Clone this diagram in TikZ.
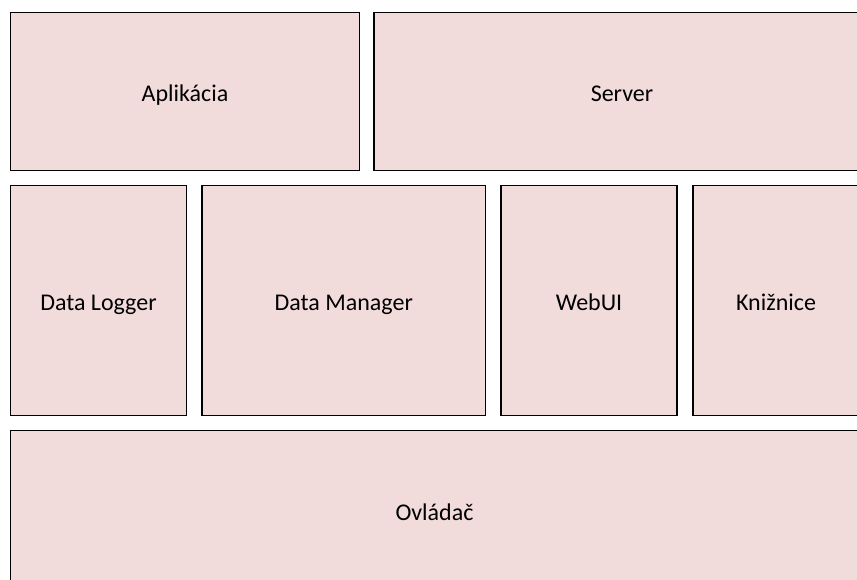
\documentclass[tikz,border=0pt]{standalone}
\usepackage{fontspec}
\setmainfont{Carlito}
\definecolor{blockfill}{HTML}{F2DCDB}
\begin{document}
\begin{tikzpicture}[x=1pt,y=-1pt,
  blockbox/.style={draw=black, fill=blockfill, line width=1.2pt, rectangle,
    inner sep=0pt, anchor=center, text height=21pt, text depth=1.5pt,
    font=\fontsize{24}{28}\selectfont}]
\useasboundingbox (0,0) rectangle (857,580);
\clip (0,0) rectangle (857,580);
% top row
\node[blockbox, minimum width=349pt, minimum height=158pt] (apl) at (185,91.5) {Aplikácia};
\node[blockbox, minimum width=496pt, minimum height=158pt] (srv) at (622,91.5) {Server};
% middle row
\node[blockbox, minimum width=176pt, minimum height=230pt] (dlog) at (98.5,300.5) {Data Logger};
\node[blockbox, minimum width=283.5pt, minimum height=230pt] (dman) at (343.75,300.5) {Data Manager};
\node[blockbox, minimum width=176pt, minimum height=230pt] (web) at (589,300.5) {WebUI};
\node[blockbox, minimum width=166pt, minimum height=230pt] (kniz) at (776,300.5) {Knižnice};
% bottom row
\node[blockbox, minimum width=848pt, minimum height=159.5pt] (ovl) at (434.5,510.25) {Ovládač};
\end{tikzpicture}
\end{document}
